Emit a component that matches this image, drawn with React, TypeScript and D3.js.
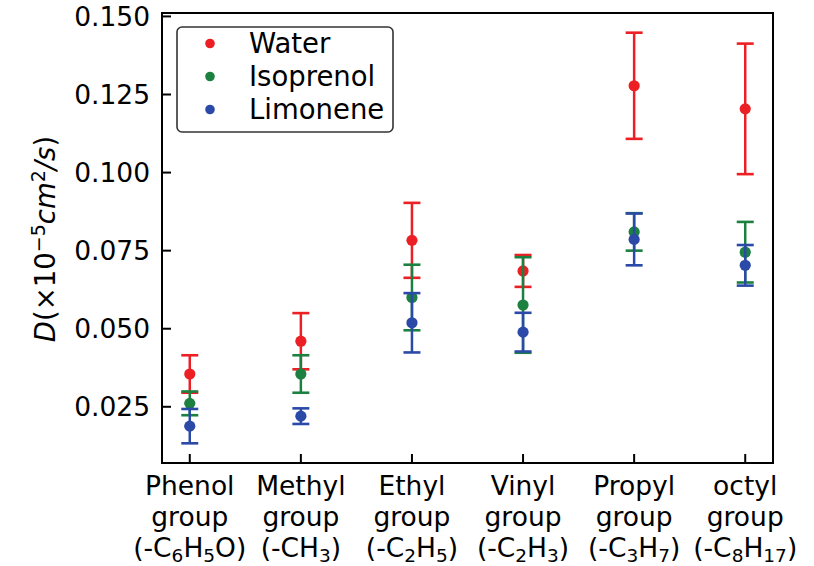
import React from "react";
import * as d3 from "d3";

// Diffusion coefficients per functional group, three solvents
const groupNames = ["Phenol", "Methyl", "Ethyl", "Vinyl", "Propyl", "octyl"];
// Formula parts: [text, isSubscript]
const groupFormulas: [string, boolean][][] = [
  [["(-C", false], ["6", true], ["H", false], ["5", true], ["O)", false]],
  [["(-CH", false], ["3", true], [")", false]],
  [["(-C", false], ["2", true], ["H", false], ["5", true], [")", false]],
  [["(-C", false], ["2", true], ["H", false], ["3", true], [")", false]],
  [["(-C", false], ["3", true], ["H", false], ["7", true], [")", false]],
  [["(-C", false], ["8", true], ["H", false], ["17", true], [")", false]],
];

const seriesNames = ["Water", "Isoprenol", "Limonene"];
const seriesColors = ["#ec2024", "#1b8040", "#2b4aa8"];

const waterValues = [0.0355, 0.046, 0.0783, 0.0685, 0.1278, 0.1204];
const waterErrors = [0.006, 0.009, 0.012, 0.0051, 0.017, 0.0209];
const isoprenolValues = [0.0261, 0.0355, 0.06, 0.0576, 0.081, 0.0745];
const isoprenolErrors = [0.0038, 0.006, 0.0105, 0.0153, 0.006, 0.0097];
const limoneneValues = [0.0188, 0.022, 0.0519, 0.0489, 0.0786, 0.0703];
const limoneneErrors = [0.0055, 0.0025, 0.0095, 0.0062, 0.0083, 0.0065];

const yTicks = [0.025, 0.05, 0.075, 0.1, 0.125, 0.15];

const W = 814;
const H = 566;
const M = { left: 162, right: 773, top: 13, bottom: 463 };
const FONT = "DejaVu Sans, sans-serif";
const FS = 26.5;

export default function App() {
  const x = d3.scaleLinear().domain([-0.25, 5.25]).range([M.left, M.right]);
  const y = d3.scaleLinear().domain([0.007, 0.1511]).range([M.bottom, M.top]);

  const series = [
    { values: waterValues, errors: waterErrors },
    { values: isoprenolValues, errors: isoprenolErrors },
    { values: limoneneValues, errors: limoneneErrors },
  ];

  const cap = 8.5;

  return (
    <svg width={W} height={H} style={{ position: "absolute", left: 0, top: 0 }} fontFamily={FONT}>
      <rect width={W} height={H} fill="#fff" />

      {/* error bars and points */}
      {series.map((s, si) => (
        <g key={si} stroke={seriesColors[si]} fill={seriesColors[si]}>
          {s.values.map((v, i) => {
            const cx = x(i);
            const lo = y(v - s.errors[i]);
            const hi = y(v + s.errors[i]);
            return (
              <g key={i}>
                <line x1={cx} x2={cx} y1={lo} y2={hi} strokeWidth={2.5} />
                <line x1={cx - cap} x2={cx + cap} y1={lo} y2={lo} strokeWidth={2.6} />
                <line x1={cx - cap} x2={cx + cap} y1={hi} y2={hi} strokeWidth={2.6} />
                <circle cx={cx} cy={y(v)} r={5.6} stroke="none" />
              </g>
            );
          })}
        </g>
      ))}

      {/* frame */}
      <rect
        x={M.left}
        y={M.top}
        width={M.right - M.left}
        height={M.bottom - M.top}
        fill="none"
        stroke="#000"
        strokeWidth={2}
      />

      {/* y ticks */}
      {yTicks.map((t) => (
        <g key={t}>
          <line x1={M.left} x2={M.left + 9} y1={y(t)} y2={y(t)} stroke="#000" strokeWidth={2} />
          <text x={150} y={y(t)} dy="0.36em" textAnchor="end" fontSize={FS} fill="#000">
            {d3.format(".3f")(t)}
          </text>
        </g>
      ))}

      {/* x ticks and labels */}
      {groupNames.map((g, i) => (
        <g key={g}>
          <line x1={x(i)} x2={x(i)} y1={M.bottom} y2={M.bottom - 9} stroke="#000" strokeWidth={2} />
          <text x={x(i)} y={495} textAnchor="middle" fontSize={FS} fill="#000">
            {g}
          </text>
          <text x={x(i)} y={526} textAnchor="middle" fontSize={FS} fill="#000">
            group
          </text>
          <text x={x(i)} y={557} textAnchor="middle" fontSize={FS} fill="#000">
            {groupFormulas[i].map(([txt, sub], k) =>
              sub ? (
                <tspan key={k} fontSize={18.5} dy={4.5}>
                  {txt}
                </tspan>
              ) : (
                <tspan key={k} dy={k === 0 ? 0 : -4.5}>
                  {txt}
                </tspan>
              )
            )}
          </text>
        </g>
      ))}

      {/* y axis title */}
      <text
        transform={`translate(45, 239) rotate(-90)`}
        y={0}
        dy="0.36em"
        textAnchor="middle"
        fontSize={27.5}
        fill="#000"
      >
        <tspan fontStyle="italic">D</tspan>
        <tspan>(×10</tspan>
        <tspan fontSize={19} dy={-10}>−5</tspan>
        <tspan fontStyle="italic" dy={10}>cm</tspan>
        <tspan fontSize={19} dy={-10}>2</tspan>
        <tspan fontStyle="italic" dy={10}>/s</tspan>
        <tspan>)</tspan>
      </text>

      {/* legend */}
      <rect
        x={177}
        y={27}
        width={216}
        height={105}
        rx={5}
        fill="#fff"
        fillOpacity={0.8}
        stroke="#333"
        strokeWidth={1.6}
      />
      {seriesNames.map((n, i) => (
        <g key={n}>
          <circle cx={210} cy={43.5 + i * 33} r={4.8} fill={seriesColors[i]} />
          <text x={249} y={43.5 + i * 33} dy="0.36em" fontSize={27.5} fill="#000">
            {n}
          </text>
        </g>
      ))}
    </svg>
  );
}
